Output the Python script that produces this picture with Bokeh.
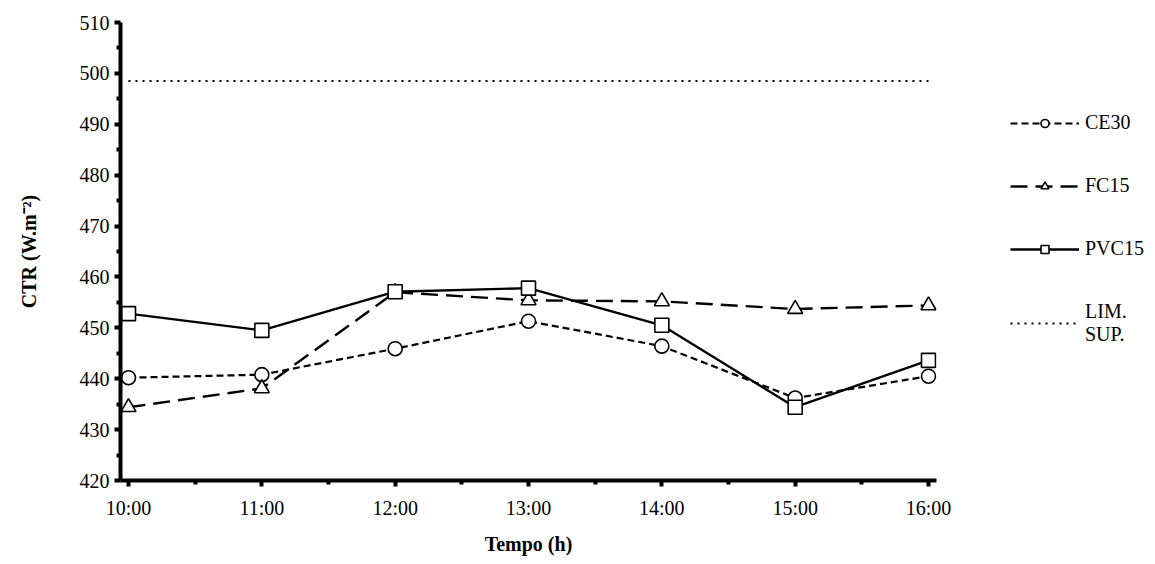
from bokeh.plotting import figure
from bokeh.models import (Range1d, FixedTicker, Legend, LegendItem)
from bokeh.embed import file_html
from bokeh.resources import INLINE

hours = ["10:00", "11:00", "12:00", "13:00", "14:00", "15:00", "16:00"]
ce30 = [440.2, 440.8, 445.9, 451.3, 446.4, 436.2, 440.5]
fc15 = [434.4, 438.1, 457.0, 455.4, 455.2, 453.7, 454.4]
pvc15 = [452.8, 449.5, 457.1, 457.8, 450.5, 434.4, 443.6]
lim_sup = 498.5
y_ticks = [420, 430, 440, 450, 460, 470, 480, 490, 500, 510]

xs = list(range(len(hours)))
lim = [lim_sup] * len(hours)

FONT = "Liberation Serif"
PAD = 0.06

p = figure(frame_width=816, frame_height=458, output_backend="svg", toolbar_location=None,
           x_range=Range1d(-PAD, len(hours) - 1 + PAD),
           y_range=Range1d(y_ticks[0], y_ticks[-1]),
           min_border_left=120, min_border_top=22, min_border_bottom=74,
           min_border_right=211)
p.outline_line_color = None
p.xgrid.visible = False
p.ygrid.visible = False

# lines
r_ce = p.line(xs, ce30, line_color="black", line_width=2.2, line_dash="7 4")
r_fc = p.line(xs, fc15, line_color="black", line_width=2.4, line_dash="17 8")
r_pvc = p.line(xs, pvc15, line_color="black", line_width=2.4)
r_lim = p.line(xs, lim, line_color="black", line_width=2.2, line_dash="2 5")

# markers
m_ce = p.scatter(xs, ce30, marker="circle", size=14, fill_color="white",
                 line_color="black", line_width=1.6)
m_fc = p.scatter(xs, fc15, marker="triangle", size=15, fill_color="white",
                 line_color="black", line_width=1.6)
m_pvc = p.scatter(xs, pvc15, marker="square", size=14, fill_color="white",
                  line_color="black", line_width=1.6)

# axes
for ax in (p.xaxis[0], p.yaxis[0]):
    ax.axis_line_width = 4
    ax.axis_line_color = "black"
    ax.major_tick_line_width = 4
    ax.minor_tick_line_width = 4
    ax.major_tick_out = 6
    ax.major_tick_in = 0
    ax.minor_tick_out = 4
    ax.minor_tick_in = 0
    ax.major_label_text_font = FONT
    ax.major_label_text_font_size = "20px"
    ax.major_label_text_color = "black"
    ax.axis_label_text_font = FONT
    ax.axis_label_text_font_size = "20px"
    ax.axis_label_text_font_style = "bold"
    ax.axis_label_text_color = "black"

p.xaxis.ticker = FixedTicker(ticks=xs, minor_ticks=[x + 0.5 for x in xs[:-1]])
p.xaxis.major_label_overrides = {i: h for i, h in enumerate(hours)}
p.xaxis.axis_label = "Tempo (h)"
p.xaxis.major_label_standoff = 10
p.xaxis.axis_label_standoff = 11

p.yaxis.ticker = FixedTicker(ticks=y_ticks, minor_ticks=[t + 5 for t in y_ticks[:-1]])
p.yaxis.axis_label = "CTR (W.m\u207b\u00b2)"
p.yaxis.major_label_standoff = 5
p.yaxis.axis_label_standoff = 37

legend = Legend(items=[
    LegendItem(label="CE30", renderers=[r_ce, m_ce]),
    LegendItem(label="FC15", renderers=[r_fc, m_fc]),
    LegendItem(label="PVC15", renderers=[r_pvc, m_pvc]),
    LegendItem(label="LIM.\nSUP.", renderers=[r_lim]),
], location=(74, 134), orientation="vertical",
    glyph_width=69, glyph_height=20, label_height=20, spacing=40,
    label_standoff=6, padding=0, margin=0,
    border_line_alpha=0, background_fill_alpha=0,
    label_text_font=FONT, label_text_font_size="20px", label_text_color="black",
    label_text_line_height=1.3)
p.add_layout(legend, "right")

open("out.html", "w").write(file_html(p, INLINE))
